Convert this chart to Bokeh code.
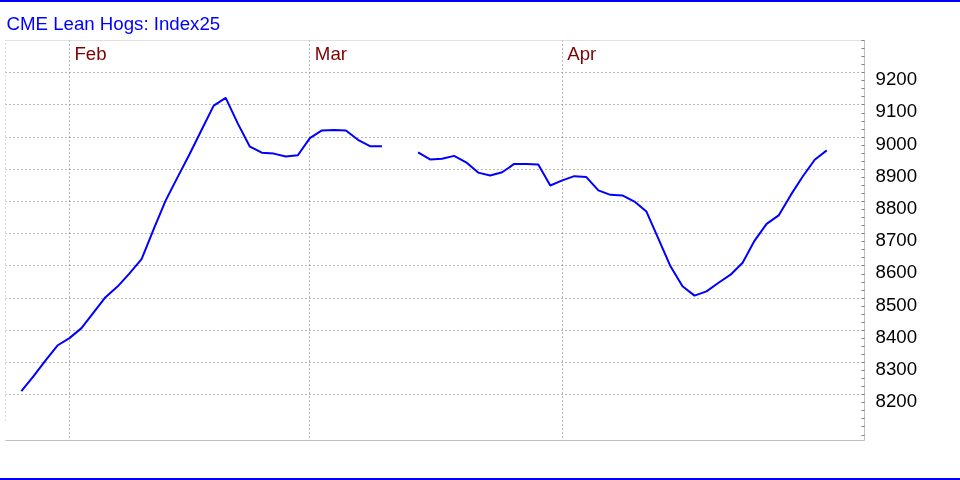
import numpy as np
from bokeh.plotting import figure
from bokeh.models import LinearAxis, FixedTicker, Range1d, Div, ColumnDataSource, CustomJSTickFormatter
from bokeh.layouts import column
from bokeh.core.properties import value
from bokeh.embed import file_html
from bokeh.resources import INLINE

# ---------------- data ----------------
title_text = "CME Lean Hogs: Index25"
day_index = list(range(68))  # trading days, starting late January
index_values = [
    8211, 8257, 8306, 8353, 8376, 8407, 8455, 8503, 8536, 8577,
    8621, 8714, 8803, 8876, 8948, 9023, 9098, 9122, 9043, 8971,
    8952, 8949, 8940, 8944, 8997, 9021, 9022, 9021, 8992, 8972,
    8972, None, None, 8953, 8931, 8933, 8942, 8922, 8890, 8881,
    8891, 8917, 8917, 8915, 8850, 8866, 8879, 8876, 8835, 8821,
    8819, 8800, 8769, 8684, 8599, 8537, 8508, 8521, 8548, 8573,
    8610, 8679, 8731, 8757, 8820, 8878, 8930, 8959,
]
month_labels = ["Feb", "Mar", "Apr"]
month_start_index = [4, 24, 45]
y_major_ticks = list(range(8200, 9201, 100))
y_minor_ticks = list(range(8075, 9301, 25))

FONT = "Liberation Sans"
X_START, X_END = -1.32, 70.14
Y_START, Y_END = 8058.0, 9300.3
PX_PER_UNIT = 400.0 / (Y_END - Y_START)
LABEL_DROP = 6.0 / PX_PER_UNIT   # tick labels sit just below their gridline

yvals = np.array([np.nan if v is None else v for v in index_values], dtype=float)

p = figure(width=960, height=476, x_range=Range1d(X_START, X_END), y_range=Range1d(Y_START, Y_END),
           toolbar_location=None, output_backend="svg", title=title_text,
           x_axis_location=None, y_axis_location=None,
           min_border_left=5, min_border_right=96, min_border_top=38, min_border_bottom=38,
           background_fill_color="white", border_fill_color="white", outline_line_color=None)

p.title.text_font = FONT
p.title.text_font_size = "14pt"
p.title.text_font_style = "normal"
p.title.text_color = "#0000ff"
p.title.align = "left"
p.title.offset = 1
p.title.standoff = 14

GRID = "#707070"
# grids
p.xgrid.ticker = FixedTicker(ticks=month_start_index)
p.xgrid.grid_line_color = GRID
p.xgrid.grid_line_dash = "1 3"
p.xgrid.cross_bounds = (8068.3, Y_END)
p.ygrid.ticker = FixedTicker(ticks=y_major_ticks)
p.ygrid.grid_line_color = GRID
p.ygrid.grid_line_dash = "1 3"
p.ygrid.cross_bounds = (X_START, 69.89)

def bare_axis(**kw):
    return LinearAxis(ticker=FixedTicker(ticks=[]), major_tick_in=0, major_tick_out=0,
                      minor_tick_in=0, minor_tick_out=0, major_label_standoff=0, **kw)

p.add_layout(bare_axis(axis_line_color="#c0c0c0"), "below")
p.add_layout(bare_axis(axis_line_color="#c0c0c0", axis_line_dash="1 1"), "above")
p.add_layout(bare_axis(axis_line_color="#c0c0c0", axis_line_dash="1 3", bounds=(8120, Y_END)), "left")

# right value axis: short inward ticks every 25, labels hanging below each 100 gridline
ry = LinearAxis(ticker=FixedTicker(ticks=[t - LABEL_DROP for t in y_major_ticks], minor_ticks=y_minor_ticks),
                formatter=CustomJSTickFormatter(code="return String(Math.round(tick / 100) * 100)"),
                axis_line_color="#c0c0c0",
                major_tick_in=0, major_tick_out=0, minor_tick_in=3, minor_tick_out=0,
                minor_tick_line_color="#808080",
                major_label_standoff=11, major_label_text_font=FONT,
                major_label_text_font_size="14pt", major_label_text_color="black")
p.add_layout(ry, "right")

# series line
p.line(day_index, yvals, line_color="#0000ff", line_width=2)

# month labels
msrc = ColumnDataSource(dict(x=month_start_index, y=[Y_END] * len(month_labels), t=month_labels))
p.text(x="x", y="y", text="t", source=msrc, x_offset=5, y_offset=13,
       text_font=value(FONT), text_font_size="14pt", text_color="#800000",
       text_baseline="alphabetic", text_align="left")

top_bar = Div(text="", width=960, height=2, margin=0, styles={"background-color": "#0000ff"})
bottom_bar = Div(text="", width=960, height=2, margin=0, styles={"background-color": "#0000ff"})
layout = column(top_bar, p, bottom_bar, spacing=0,
                styles={"position": "fixed", "left": "0px", "top": "0px"})

open("out.html", "w").write(file_html(layout, INLINE))
